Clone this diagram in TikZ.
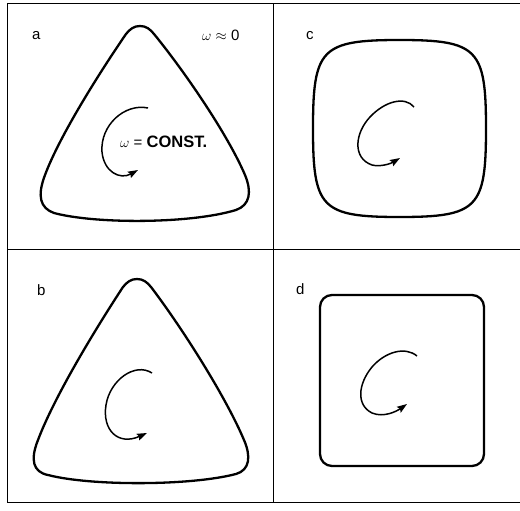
\documentclass[tikz,border=0pt]{standalone}
\usepackage{fontspec}
\setsansfont{Liberation Sans}
\usetikzlibrary{arrows.meta}
\tikzset{
  frameline/.style={line width=1pt, black},
  outline/.style={line width=2.3pt, black, line join=round},
  swirl/.style={line width=1.5pt, black, -{Stealth[length=10pt,width=7pt,inset=1.5pt]}},
  panellabel/.style={anchor=base west, inner sep=0pt, font=\sffamily\fontsize{15}{15}\selectfont},
  annot/.style={anchor=base west, inner sep=0pt, font=\sffamily\fontsize{15}{15}\selectfont},
}
\begin{document}
\begin{tikzpicture}[x=1pt,y=-1pt]
\useasboundingbox[fill=white] (0,0) rectangle (520,511);
% frame
\draw[frameline] (520,4) -- (7,4) -- (7,502) -- (520,502);
\draw[frameline] (7,249) -- (520,249);
\draw[frameline] (273,4) -- (273,502);

% panel labels
\node[panellabel] (la) at (32,40) {a};
\node[panellabel] (lc) at (306,40) {c};
\node[panellabel] (lb) at (37,295) {b};
\node[panellabel] (ld) at (296,294) {d};

% annotations
\node[annot] (w0) at (202,41) {$\omega$ $\approx$ 0};
\node[annot] (wc) at (120,147) {$\omega$ = \textbf{\fontsize{16.5}{16.5}\selectfont CONST.}};

% panel a: triangle
\draw[outline] (140,26) .. controls (134,26) and (130,29) .. (126,34)
  .. controls (100,72) and (60,135) .. (45,175)
  .. controls (37,196) and (40,208) .. (54,213)
  .. controls (95,224) and (190,224) .. (236,210)
  .. controls (250,205) and (252,192) .. (245,175)
  .. controls (228,135) and (185,72) .. (154,34)
  .. controls (150,29) and (146,26) .. (140,26) -- cycle;
\draw[swirl] (148,108) .. controls (125,103) and (100,125) .. (102,152)
  .. controls (104,172) and (120,180) .. (138,170);

% panel b: triangle
\draw[outline] (137,279) .. controls (131,279) and (127,282) .. (123,287)
  .. controls (98,325) and (55,395) .. (38,440)
  .. controls (30,460) and (33,472) .. (48,475)
  .. controls (90,486) and (190,486) .. (236,474)
  .. controls (250,470) and (251,456) .. (244,440)
  .. controls (225,395) and (180,325) .. (151,287)
  .. controls (147,282) and (143,279) .. (137,279) -- cycle;
\draw[swirl] (152,373) .. controls (135,362) and (110,380) .. (106,405)
  .. controls (102,430) and (118,446) .. (147,433);

% panel c: squircle
\draw[outline] (399.5,40) .. controls (478,40) and (486,49) .. (486,128.5)
  .. controls (486,208) and (478,217) .. (399.5,217)
  .. controls (321,217) and (313,208) .. (313,128.5)
  .. controls (313,49) and (321,40) .. (399.5,40) -- cycle;
\draw[swirl] (414,107) .. controls (405,96) and (385,101) .. (370,117)
  .. controls (355,133) and (352,158) .. (372,165)
  .. controls (380,167) and (390,164) .. (400,158);

% panel d: rounded square
\draw[outline, rounded corners=12pt] (320,295) rectangle (484,466);
\draw[swirl] (417,356) .. controls (405,346) and (385,352) .. (372,367)
  .. controls (358,384) and (356,405) .. (372,413)
  .. controls (384,418) and (397,411) .. (407,404);
\end{tikzpicture}
\end{document}
